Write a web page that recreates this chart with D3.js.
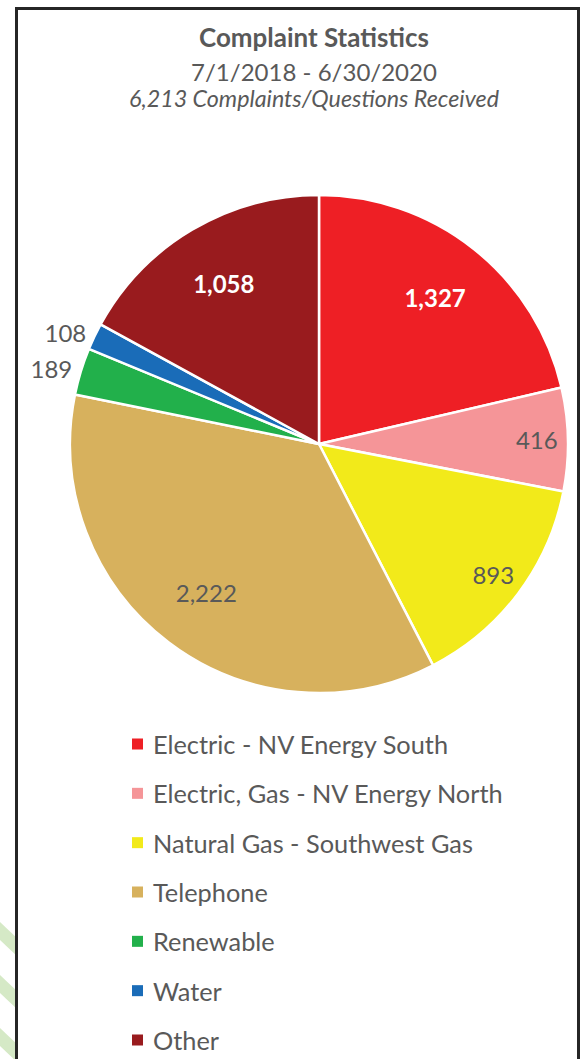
<!DOCTYPE html>
<html>
<head>
<meta charset="utf-8">
<script src="https://cdn.jsdelivr.net/npm/d3@7"></script>
<style>
  html, body { margin: 0; padding: 0; background: #fff; }
  svg { display: block; font-family: Lato, "Open Sans", sans-serif; }
</style>
</head>
<body>
<div id="chart"></div>
<script>
// -- DATA -- //
const categories = [
    "Electric - NV Energy South",
    "Electric, Gas - NV Energy North",
    "Natural Gas - Southwest Gas",
    "Telephone",
    "Renewable",
    "Water",
    "Other"
];
const counts = [1327, 416, 893, 2222, 189, 108, 1058];
const sliceColors = ["#ee1f25", "#f59598", "#f2ea1a", "#d7b15d", "#22b04b", "#1a6cb8", "#991b1e"];
const titleLines = ["Complaint Statistics", "7/1/2018 - 6/30/2020", "6,213 Complaints/Questions Received"];

var width = 585;
var height = 1059;
var textGray = "#595959";

let drawChart = () => {
    const svg = d3.select("#chart")
        .append("svg")
        .attr("width", width)
        .attr("height", height);

    // green stripes peeking in at the lower left (page decoration)
    const stripes = svg.append("g");
    [922, 975, 1028].forEach(y0 => {
        stripes.append("path")
            .attr("d", `M0,${y0} L19,${y0 + 18} L19,${y0 + 36} L0,${y0 + 18} Z`)
            .attr("fill", "#d5e9c6");
    });

    // chart box
    svg.append("rect")
        .attr("x", 18)
        .attr("y", 9)
        .attr("width", 559)
        .attr("height", height)
        .attr("fill", "#fff");
    svg.append("rect")
        .attr("x", 16.5)
        .attr("y", 8.5)
        .attr("width", 562)
        .attr("height", height + 20)
        .attr("fill", "none")
        .attr("stroke", "#262626")
        .attr("stroke-width", 3);

    // fit a text element to a target width
    let fitWidth = (sel, w) => {
        const len = sel.node().getComputedTextLength();
        const fs = parseFloat(sel.attr("font-size"));
        sel.attr("font-size", (fs * w / len).toFixed(2));
    };

    // TITLE
    const titleY = [37, 71, 98];
    const titleW = [230, 246, 370];
    titleLines.forEach((t, i) => {
        const tt = svg.append("text")
            .attr("x", 314)
            .attr("y", titleY[i])
            .attr("text-anchor", "middle")
            .attr("dominant-baseline", "central")
            .attr("fill", textGray)
            .attr("font-size", 20)
            .attr("font-weight", i === 0 ? "bold" : "normal")
            .attr("font-style", i === 2 ? "italic" : "normal")
            .text(t);
        fitWidth(tt, titleW[i]);
    });

    // PIE
    const total = d3.sum(counts);
    const r = 249;
    const cx = 319, cy = 444;
    const data = categories.map((c, i) => ({ name: c, value: counts[i], color: sliceColors[i] }));

    const pie = d3.pie().sort(null).value(d => d.value);
    const arc = d3.arc().innerRadius(0).outerRadius(r);
    const arcs = pie(data);

    const g = svg.append("g").attr("transform", `translate(${cx},${cy})`);

    g.selectAll("path")
        .data(arcs)
        .enter()
        .append("path")
        .attr("d", arc)
        .attr("fill", d => d.data.color)
        .attr("stroke", "#fff")
        .attr("stroke-width", 2.5)
        .attr("stroke-linejoin", "round");

    // labels: big slices near the middle, medium ones near the rim, tiny ones outside
    const fmt = d3.format(",");
    const innerArc = d3.arc().innerRadius(r * 0.75).outerRadius(r * 0.75);
    const rimArc = d3.arc().innerRadius(r * 0.875).outerRadius(r * 0.875);
    const outArc = d3.arc().innerRadius(r + 9).outerRadius(r + 9);

    arcs.forEach(d => {
        const share = d.value / total;
        let pos, anchor = "middle";
        if (share >= 0.15) pos = innerArc.centroid(d);
        else if (share >= 0.04) pos = rimArc.centroid(d);
        else { pos = outArc.centroid(d); anchor = "end"; }
        const dark = d.data.color === "#ee1f25" || d.data.color === "#991b1e";
        g.append("text")
            .attr("x", pos[0])
            .attr("y", pos[1])
            .attr("text-anchor", anchor)
            .attr("dominant-baseline", "central")
            .attr("font-size", 24)
            .attr("font-weight", dark ? "bold" : "normal")
            .attr("fill", dark ? "#fff" : textGray)
            .text(fmt(d.value));
    });

    // LEGEND
    const legend = svg.append("g");
    const rowY = d3.scaleLinear().domain([0, categories.length - 1]).range([744, 1040]);
    let legendSize = 22;
    categories.forEach((c, i) => {
        legend.append("rect")
            .attr("x", 132)
            .attr("y", rowY(i) - 5.5)
            .attr("width", 11)
            .attr("height", 11)
            .attr("fill", sliceColors[i]);
        const lt = legend.append("text")
            .attr("class", "legend-label")
            .attr("x", 153)
            .attr("y", rowY(i))
            .attr("dominant-baseline", "central")
            .attr("fill", textGray)
            .attr("font-size", legendSize)
            .text(c);
        if (i === 0) {
            fitWidth(lt, 295);
            legendSize = lt.attr("font-size");
        }
    });
    legend.selectAll(".legend-label").attr("font-size", legendSize);
}

drawChart()
</script>
</body>
</html>
